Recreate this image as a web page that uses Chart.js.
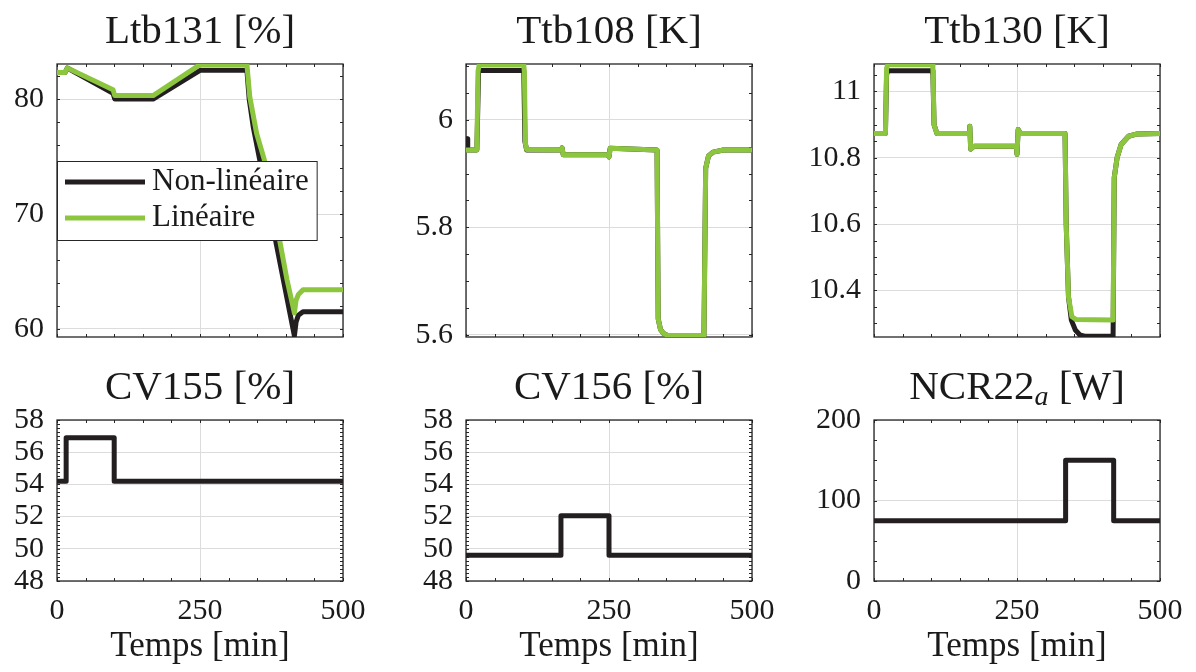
<!DOCTYPE html>
<html>
<head>
<meta charset="utf-8">
<script src="https://cdn.jsdelivr.net/npm/chart.js@4.4.0/dist/chart.umd.min.js"></script>
<style>
  body { margin: 0; background: #fff; width: 1196px; height: 672px; overflow: hidden; position: relative; }
  canvas { position: absolute; }
</style>
</head>
<body>
<canvas id="ltb131" width="373" height="345" style="left:0;top:0"></canvas>
<canvas id="ttb108" width="373" height="345" style="left:409px;top:0"></canvas>
<canvas id="ttb130" width="406" height="345" style="left:784px;top:0"></canvas>
<canvas id="cv155" width="373" height="316" style="left:0;top:356px"></canvas>
<canvas id="cv156" width="373" height="316" style="left:409px;top:356px"></canvas>
<canvas id="ncr22" width="406" height="316" style="left:784px;top:356px"></canvas>
<script>
// series names
const seriesNames = ["Non-linéaire", "Linéaire"];
const timeTicks = [0, 250, 500];

// Ltb131 [%]
const ltbTimeNL = [0, 14, 18, 98, 101, 168, 250, 332, 336, 343, 415, 418, 422, 430, 500];
const ltbNL = [82.3, 82.3, 82.7, 80.5, 80.0, 80.0, 82.5, 82.5, 80.0, 77.6, 59.4, 60.6, 61.2, 61.5, 61.5];
const ltbTimeL = [0, 14, 18, 98, 101, 168, 250, 332, 337, 349, 362, 387, 402, 415, 418, 422, 430, 500];
const ltbL = [82.3, 82.3, 82.7, 80.8, 80.3, 80.3, 83.0, 83.0, 80.2, 77.0, 74.8, 68.3, 64.3, 61.4, 62.5, 63.0, 63.4, 63.4];
const ltbTicks = [60, 70, 80];

// Ttb108 [K]
const t108NL = [0, 2, 3, 19, 22, 101, 103, 106, 167, 168, 170, 249, 250, 252, 334, 336, 340, 345, 352, 416, 419, 424, 432, 450, 500];
const v108NL = [5.965, 5.965, 5.944, 5.944, 6.092, 6.092, 5.96, 5.944, 5.944, 5.948, 5.935, 5.935, 5.931, 5.947, 5.944, 5.63, 5.61, 5.603, 5.599, 5.599, 5.91, 5.933, 5.940, 5.944, 5.944];
const t108L = [0, 19, 21, 23, 101, 102, 104, 106, 167, 168, 170, 249, 250, 252, 334, 336, 340, 345, 352, 416, 419, 424, 432, 450, 500];
const v108L = [5.944, 5.944, 6.09, 6.102, 6.102, 6.09, 5.955, 5.945, 5.944, 5.948, 5.935, 5.935, 5.931, 5.947, 5.944, 5.63, 5.61, 5.603, 5.599, 5.599, 5.91, 5.933, 5.940, 5.944, 5.944];
const ttb108Ticks = [5.6, 5.8, 6];

// Ttb130 [K]
const t130NL = [0, 20, 22, 24, 102, 103, 105, 110, 167, 167.5, 169, 175, 249, 250, 252, 256, 334, 336, 340, 345, 352, 360, 370, 418, 420, 425, 432, 445, 460, 500];
const v130NL = [10.873, 10.873, 11.05, 11.063, 11.063, 11.05, 10.9, 10.873, 10.873, 10.895, 10.826, 10.835, 10.835, 10.81, 10.885, 10.873, 10.873, 10.6, 10.38, 10.31, 10.28, 10.265, 10.261, 10.261, 10.74, 10.80, 10.84, 10.865, 10.872, 10.873];
const t130L = [0, 20, 22, 24, 102, 103, 105, 110, 167, 167.5, 169, 175, 249, 250, 252, 256, 334, 336, 340, 346, 353, 418, 420, 425, 432, 445, 460, 500];
const v130L = [10.873, 10.873, 11.07, 11.081, 11.081, 11.07, 10.9, 10.873, 10.873, 10.895, 10.826, 10.835, 10.835, 10.81, 10.885, 10.873, 10.873, 10.6, 10.38, 10.32, 10.312, 10.31, 10.74, 10.80, 10.84, 10.865, 10.872, 10.873];
const ttb130Ticks = [10.4, 10.6, 10.8, 11];

// inputs
const cv155Time = [0, 16, 16, 100, 100, 500];
const cv155 = [54.2, 54.2, 56.9, 56.9, 54.2, 54.2];
const cv156Time = [0, 166, 166, 250, 250, 500];
const cv156 = [49.6, 49.6, 52.05, 52.05, 49.6, 49.6];
const cvTicks = [48, 50, 52, 54, 56, 58];
const ncrTime = [0, 335, 335, 419, 419, 500];
const ncr22a = [75, 75, 150, 150, 75, 75];
const ncrTicks = [0, 100, 200];

const BLACK = "#231f20";
const GREEN = "#8cc63f";
const FONT = "'Liberation Serif', 'Times New Roman', serif";

Chart.defaults.font.family = FONT;
Chart.defaults.color = "#1a1a1a";

function pts(t, v) {
  return t.map((x, i) => ({ x: x, y: v[i] }));
}

// title drawn above the plot box, with optional subscript parts
const panelTitle = {
  id: "panelTitle",
  afterDraw(chart, args, opts) {
    if (!opts.parts) return;
    const { ctx, chartArea: a } = chart;
    ctx.save();
    ctx.fillStyle = "#1a1a1a";
    ctx.textBaseline = "alphabetic";
    const fonts = opts.parts.map((p) => (p.sub ? "italic 28px " + FONT : "41px " + FONT));
    let total = 0;
    const widths = opts.parts.map((p, i) => {
      ctx.font = fonts[i];
      const w = ctx.measureText(p.text).width;
      total += w;
      return w;
    });
    let x = (a.left + a.right) / 2 - total / 2;
    const base = a.top - 21;
    opts.parts.forEach((p, i) => {
      ctx.font = fonts[i];
      ctx.fillText(p.text, x, p.sub ? base + 6 : base);
      x += widths[i];
    });
    ctx.restore();
  },
};

// box and inward tick marks, matlab style
const axesBox = {
  id: "axesBox",
  beforeDatasetsDraw(chart, args, opts) {
    const { ctx, chartArea: a, scales } = chart;
    const x = scales.x, y = scales.y;
    ctx.save();
    ctx.strokeStyle = "#262626";
    ctx.lineWidth = 1;
    ctx.beginPath();
    const x0 = Math.ceil(x.min / opts.xStep - 1e-6);
    const nx = Math.floor(x.max / opts.xStep + 1e-6);
    for (let i = x0; i <= nx; i++) {
      const px = Math.round(x.getPixelForValue(i * opts.xStep)) + 0.5;
      ctx.moveTo(px, a.bottom); ctx.lineTo(px, a.bottom - 3);
      ctx.moveTo(px, a.top); ctx.lineTo(px, a.top + 3);
    }
    const y0 = Math.ceil(y.min / opts.yStep - 1e-6);
    const ny = Math.floor(y.max / opts.yStep + 1e-6);
    for (let i = y0; i <= ny; i++) {
      const py = Math.round(y.getPixelForValue(i * opts.yStep)) + 0.5;
      ctx.moveTo(a.left, py); ctx.lineTo(a.left + 3, py);
      ctx.moveTo(a.right, py); ctx.lineTo(a.right - 3, py);
    }
    ctx.stroke();
    ctx.lineWidth = 1.3;
    ctx.strokeRect(a.left, a.top, a.right - a.left, a.bottom - a.top);
    ctx.restore();
  },
};

const boxLegend = {
  id: "boxLegend",
  afterDraw(chart, args, opts) {
    if (!opts.items) return;
    const { ctx, chartArea: a } = chart;
    ctx.save();
    ctx.font = "31px " + FONT;
    const textW = Math.max(...opts.items.map((it) => ctx.measureText(it.text).width));
    const bx = a.left, by = a.top + opts.offsetY;
    const w = 95 + textW + 8, h = 79;
    ctx.fillStyle = "#fff";
    ctx.fillRect(bx, by, w, h);
    ctx.strokeStyle = "#262626";
    ctx.lineWidth = 1;
    ctx.strokeRect(bx + 0.5, by + 0.5, w, h);
    opts.items.forEach((it, i) => {
      const ly = by + 21 + i * 36;
      ctx.strokeStyle = it.color;
      ctx.lineWidth = 5;
      ctx.beginPath();
      ctx.moveTo(bx + 8, ly);
      ctx.lineTo(bx + 88, ly);
      ctx.stroke();
      ctx.fillStyle = "#1a1a1a";
      ctx.textBaseline = "alphabetic";
      ctx.fillText(it.text, bx + 95, ly + 7.5);
    });
    ctx.restore();
  },
};

function makePanel(id, p) {
  const bottomRow = !!p.xLabel;
  const yWidth = p.yWidth || 57;
  const grid = { color: "#dcdcdc", lineWidth: 1, drawTicks: false };
  new Chart(document.getElementById(id), {
    type: "line",
    data: {
      datasets: p.series.map((s) => ({
        data: pts(s.t, s.v),
        borderColor: s.color,
        borderWidth: 5,
        pointRadius: 0,
        tension: 0,
        borderJoinStyle: "round",
        fill: false,
      })),
    },
    options: {
      responsive: false,
      animation: false,
      events: [],
      layout: { padding: { top: 64, right: 30, left: 0, bottom: 0 } },
      plugins: {
        legend: { display: false },
        tooltip: { enabled: false },
        panelTitle: { parts: p.title },
        axesBox: { xStep: 50, yStep: p.yMinor },
        boxLegend: { items: p.legend, offsetY: 97 },
      },
      scales: {
        x: {
          type: "linear",
          min: 0,
          max: 500,
          afterBuildTicks: (s) => { s.ticks = timeTicks.map((v) => ({ value: v })); },
          afterFit: (s) => { s.height = bottomRow ? 91 : 8; s.paddingLeft = 0; s.paddingRight = 0; },
          grid: grid,
          border: { display: false },
          ticks: { display: bottomRow, font: { size: 30 }, padding: 12, maxRotation: 0, autoSkip: false },
          title: { display: bottomRow, text: p.xLabel, font: { size: 35 }, padding: { top: 0, bottom: 4 } },
        },
        y: {
          type: "linear",
          min: p.yMin,
          max: p.yMax,
          afterBuildTicks: (s) => { s.ticks = p.yTicks.map((v) => ({ value: v })); },
          afterFit: (s) => { s.width = yWidth; s.paddingTop = 0; s.paddingBottom = 0; },
          grid: grid,
          border: { display: false },
          ticks: { font: { size: 30 }, padding: 13, autoSkip: false, callback: (v) => String(+v.toFixed(2)) },
        },
      },
    },
    plugins: [panelTitle, axesBox, boxLegend],
  });
}

makePanel("ltb131", {
  title: [{ text: "Ltb131 [%]" }],
  series: [
    { t: ltbTimeL, v: ltbL, color: GREEN },
    { t: ltbTimeNL, v: ltbNL, color: BLACK },
  ],
  legend: [
    { text: seriesNames[0], color: BLACK },
    { text: seriesNames[1], color: GREEN },
  ],
  yMin: 59.3, yMax: 83.05, yTicks: ltbTicks, yMinor: 2,
});

makePanel("ttb108", {
  title: [{ text: "Ttb108 [K]" }],
  series: [
    { t: t108L, v: v108L, color: GREEN },
    { t: t108NL, v: v108NL, color: BLACK },
  ],
  yMin: 5.596, yMax: 6.104, yTicks: ttb108Ticks, yMinor: 0.05,
});

makePanel("ttb130", {
  title: [{ text: "Ttb130 [K]" }],
  series: [
    { t: t130L, v: v130L, color: GREEN },
    { t: t130NL, v: v130NL, color: BLACK },
  ],
  yMin: 10.259, yMax: 11.083, yTicks: ttb130Ticks, yMinor: 0.05, yWidth: 90,
});

makePanel("cv155", {
  title: [{ text: "CV155 [%]" }],
  series: [{ t: cv155Time, v: cv155, color: BLACK }],
  yMin: 48, yMax: 58, yTicks: cvTicks, yMinor: 0.25,
  xLabel: "Temps [min]",
});

makePanel("cv156", {
  title: [{ text: "CV156 [%]" }],
  series: [{ t: cv156Time, v: cv156, color: BLACK }],
  yMin: 48, yMax: 58, yTicks: cvTicks, yMinor: 0.25,
  xLabel: "Temps [min]",
});

makePanel("ncr22", {
  title: [{ text: "NCR22" }, { text: "a", sub: true }, { text: " [W]" }],
  series: [{ t: ncrTime, v: ncr22a, color: BLACK }],
  yMin: 0, yMax: 200, yTicks: ncrTicks, yMinor: 25, yWidth: 90,
  xLabel: "Temps [min]",
});
</script>
</body>
</html>
